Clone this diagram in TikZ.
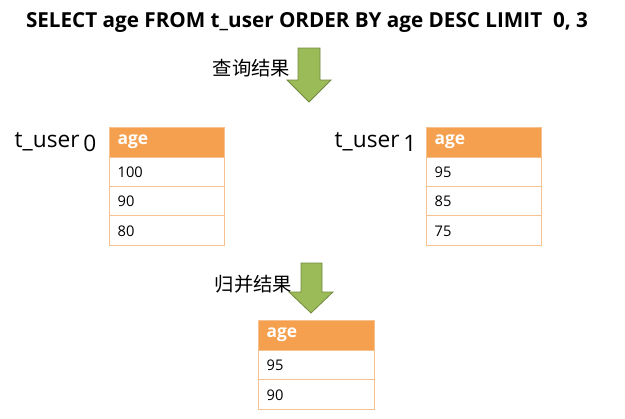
\documentclass[tikz,border=0pt]{standalone}
\usepackage{fontspec}
\setmainfont{Open Sans}
\newfontfamily\cjk{Noto Sans CJK SC}
\begin{document}
\begin{tikzpicture}[x=0.75pt,y=-0.75pt]
\definecolor{hdrc}{HTML}{F5A04E}\definecolor{celld}{HTML}{F7C08F}
\definecolor{arrf}{HTML}{9BBB59}\definecolor{arrd}{HTML}{71893F}
\tikzset{hdr/.style={fill=hdrc,draw=celld,line width=0.6pt},cellbox/.style={draw=celld,fill=white,line width=0.6pt},
 arr/.style={fill=arrf,draw=arrd,line width=0.6pt},
 ht/.style={text=white,font=\bfseries\fontsize{13}{13}\selectfont,anchor=west},
 ct/.style={font=\fontsize{11}{11}\selectfont,anchor=west}}
\useasboundingbox (0,0) rectangle (625,418);
\node[font=\bfseries\fontsize{15.5}{15.5}\selectfont] (title) at (307,22) {SELECT age FROM t\_user ORDER BY age DESC LIMIT\ \ 0, 3};
\draw[arr] (298,48) -- (320,48) -- (320,80) -- (331,80) -- (309,102) -- (287,80) -- (298,80) -- cycle;
\node[font=\cjk\fontsize{14.5}{14.5}\selectfont,anchor=east] (l1) at (295,68) {查询结果};
\draw[arr] (301,263) -- (322,263) -- (322,292) -- (333,292) -- (311,313) -- (289,292) -- (301,292) -- cycle;
\node[font=\cjk\fontsize{14.5}{14.5}\selectfont,anchor=east] (l2) at (297,284) {归并结果};
\foreach \x/\y/\nm/\a/\b/\c in {109/127/t0/100/90/80, 426/127/t1/95/85/75}{
  \draw[hdr] (\x,\y) rectangle ++(115,30);
  \node[ht] at (\x+4,\y+15) {age};
  \draw[cellbox] (\x,\y+30) rectangle ++(115,29);
  \node[ct] at (\x+4,\y+45) {\a};
  \draw[cellbox] (\x,\y+59) rectangle ++(115,29);
  \node[ct] at (\x+4,\y+74) {\b};
  \draw[cellbox] (\x,\y+88) rectangle ++(115,30);
  \node[ct] at (\x+4,\y+104) {\c};
}
\draw[hdr] (258,320) rectangle ++(116,30);
\node[ht] at (262,335) {age};
\draw[cellbox] (258,350) rectangle ++(116,29);
\node[ct] at (262,365) {95};
\draw[cellbox] (258,379) rectangle ++(116,30);
\node[ct] at (262,395) {90};
\node[anchor=west,font=\fontsize{17}{17}\selectfont] (n0) at (10,142) {t\_user\,\raisebox{-0.35ex}{0}};
\node[anchor=west,font=\fontsize{17}{17}\selectfont] (n1) at (330,142) {t\_user\,\raisebox{-0.35ex}{1}};
\end{tikzpicture}
\end{document}
